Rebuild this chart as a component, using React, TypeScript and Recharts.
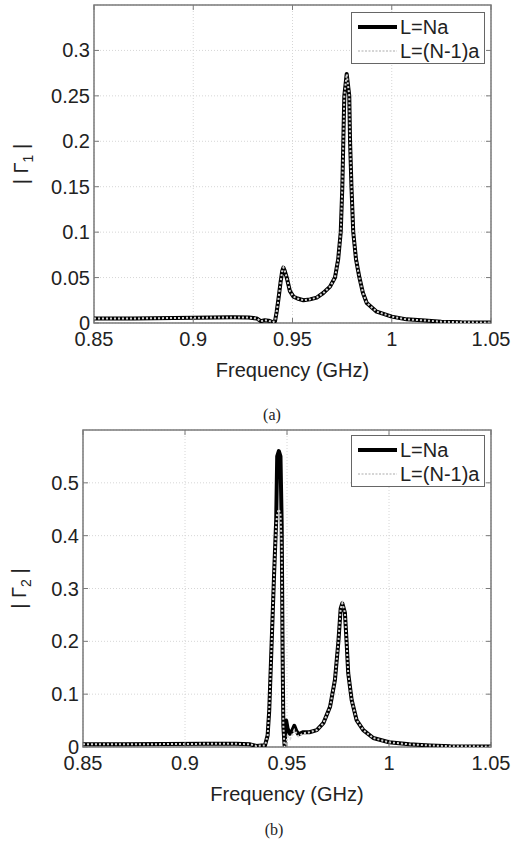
import React from "react";
import {
  LineChart,
  Line,
  XAxis,
  YAxis,
  CartesianGrid,
  ReferenceArea,
  Legend,
  Label,
} from "recharts";

const xTicks = [0.85, 0.9, 0.95, 1, 1.05];
const yTicksA = [0, 0.05, 0.1, 0.15, 0.2, 0.25, 0.3];
const yTicksB = [0, 0.1, 0.2, 0.3, 0.4, 0.5];
const seriesNames = ["L=Na", "L=(N-1)a"];

// panel (a): |Gamma_1|
const freqA = [
  0.85, 0.87, 0.89, 0.91, 0.92, 0.928, 0.932, 0.934, 0.936, 0.938, 0.94, 0.9412,
  0.942, 0.9429, 0.944, 0.9448, 0.9454, 0.946, 0.9471, 0.9487, 0.9505, 0.9525,
  0.9555, 0.9588, 0.9622, 0.9655, 0.9689, 0.9714, 0.973, 0.9743, 0.9751, 0.9756,
  0.9761, 0.9773, 0.9786, 0.979, 0.9797, 0.9806, 0.982, 0.9837, 0.9855, 0.9874,
  0.9924, 1.0, 1.0075, 1.015, 1.025, 1.035, 1.05,
];
const gamma1Na = [
  0.005, 0.005, 0.0055, 0.006, 0.0062, 0.006, 0.005, 0.002, 0.003, 0.0025, 0.001, 0.002,
  0.012, 0.026, 0.045, 0.057, 0.061, 0.058, 0.05, 0.035, 0.029, 0.027,
  0.025, 0.026, 0.028, 0.033, 0.04, 0.05, 0.07, 0.1, 0.15, 0.2,
  0.25, 0.274, 0.25, 0.2, 0.15, 0.1, 0.07, 0.05, 0.033, 0.022,
  0.0125, 0.007, 0.004, 0.003, 0.0015, 0.0008, 0.0005,
];
const gamma1N1 = [
  0.005, 0.005, 0.0055, 0.006, 0.0062, 0.006, 0.005, 0.002, 0.003, 0.0025, 0.001, 0.002,
  0.012, 0.026, 0.045, 0.057, 0.061, 0.058, 0.05, 0.035, 0.029, 0.027,
  0.025, 0.026, 0.028, 0.033, 0.04, 0.05, 0.07, 0.1, 0.15, 0.2,
  0.25, 0.274, 0.25, 0.2, 0.15, 0.1, 0.07, 0.05, 0.033, 0.022,
  0.0125, 0.007, 0.004, 0.003, 0.0015, 0.0008, 0.0005,
];

// panel (b): |Gamma_2|
const freqB = [
  0.85, 0.87, 0.89, 0.91, 0.925, 0.932, 0.935, 0.9375, 0.9392, 0.9405, 0.9413, 0.9425,
  0.9437, 0.9447, 0.9452, 0.946, 0.9468, 0.9474, 0.9478, 0.9482, 0.9488, 0.9496,
  0.9503, 0.9515, 0.9525, 0.9536, 0.9546, 0.9556, 0.958, 0.961, 0.9646, 0.9678,
  0.9711, 0.9735, 0.9752, 0.9763, 0.9771, 0.9784, 0.9792, 0.98, 0.9817, 0.9841,
  0.9874, 0.9923, 1.0, 1.01, 1.02, 1.03, 1.05,
];
const gamma2Na = [
  0.005, 0.005, 0.0055, 0.006, 0.006, 0.005, 0.002, 0.003, 0.003, 0.022, 0.07, 0.2,
  0.33, 0.43, 0.55, 0.56, 0.55, 0.42, 0.2, 0.04, 0.003, 0.05,
  0.035, 0.025, 0.03, 0.04, 0.03, 0.024, 0.028, 0.028, 0.032, 0.045,
  0.076, 0.127, 0.2, 0.262, 0.272, 0.254, 0.2, 0.14, 0.089, 0.051,
  0.032, 0.017, 0.009, 0.005, 0.003, 0.0015, 0.001,
];
const gamma2N1 = [
  0.005, 0.005, 0.0055, 0.006, 0.006, 0.005, 0.002, 0.003, 0.003, 0.022, 0.07, 0.2,
  0.33, 0.42, 0.44, 0.45, 0.44, 0.38, 0.18, 0.04, 0.0, 0.005,
  0.02, 0.015, 0.022, 0.032, 0.026, 0.02, 0.026, 0.028, 0.032, 0.045,
  0.076, 0.127, 0.2, 0.262, 0.272, 0.254, 0.2, 0.14, 0.089, 0.051,
  0.032, 0.017, 0.009, 0.005, 0.003, 0.0015, 0.001,
];

const dataA = freqA.map((f, i) => ({ f, na: gamma1Na[i], n1: gamma1N1[i] }));
const dataB = freqB.map((f, i) => ({ f, na: gamma2Na[i], n1: gamma2N1[i] }));

const FONT = "'Liberation Sans', Arial, Helvetica, sans-serif";
const AXIS = "#7a7a7a";
const TEXT = "#222";

const makeXTick = (plotTop: number) => (p: any) => {
  const { x, y, payload } = p;
  return (
    <g>
      <line x1={x} x2={x} y1={y - 9} y2={y - 14} stroke={AXIS} />
      <line x1={x} x2={x} y1={plotTop} y2={plotTop + 5} stroke={AXIS} />
      <text x={x} y={y} dy="0.71em" textAnchor="middle" fontSize={20} fill={TEXT} fontFamily={FONT}>
        {payload.value}
      </text>
    </g>
  );
};

const makeYTick = (plotRight: number) => (p: any) => {
  const { x, y, payload } = p;
  return (
    <g>
      <line x1={x + 4} x2={x + 9} y1={y} y2={y} stroke={AXIS} />
      <line x1={plotRight} x2={plotRight - 5} y1={y} y2={y} stroke={AXIS} />
      <text x={x} y={y} dy="0.35em" textAnchor="end" fontSize={20} fill={TEXT} fontFamily={FONT}>
        {payload.value}
      </text>
    </g>
  );
};

const legendContent = () => (
  <div
    style={{
      border: "1.5px solid #666",
      background: "#fff",
      boxSizing: "border-box",
      width: 134,
      height: 52,
      padding: "2px 0 0 0",
      fontFamily: FONT,
      fontSize: 20,
      color: TEXT,
      lineHeight: "25px",
      whiteSpace: "nowrap",
    }}
  >
    {seriesNames.map((name, i) => (
      <div key={name} style={{ display: "flex", alignItems: "center", height: 24 }}>
        <svg width={42} height={10} style={{ marginLeft: 6, flexShrink: 0 }}>
          {i === 0 ? (
            <line x1={0} x2={39} y1={5} y2={5} stroke="#000" strokeWidth={4} />
          ) : (
            <line x1={0} x2={39} y1={5} y2={5} stroke="#c8c8c8" strokeWidth={1.5} strokeDasharray="2 1.5" />
          )}
        </svg>
        <span style={{ flexShrink: 0 }}>{name}</span>
      </div>
    ))}
  </div>
);

const yLabel = (sub: string, cx: number, cy: number) => () => (
  <text
    x={cx}
    y={cy}
    transform={`rotate(-90 ${cx} ${cy})`}
    textAnchor="middle"
    fontSize={20}
    fill={TEXT}
    fontFamily={FONT}
  >
    {"| Γ"}
    <tspan fontSize={14} dy={5}>{sub}</tspan>
    <tspan dy={-5}>{" |"}</tspan>
  </text>
);

const xLabel = (cx: number, cy: number) => () => (
  <text x={cx} y={cy} textAnchor="middle" fontSize={20} fill={TEXT} fontFamily={FONT}>
    Frequency (GHz)
  </text>
);

type PanelProps = {
  data: { f: number; na: number; n1: number }[];
  height: number;
  top: number;
  left: number;
  bottom: number;
  yMax: number;
  yTicks: number[];
  sub: string;
  legendTop: number;
  labelX: number;
};

const Panel = ({ data, height, top, left, bottom, yMax, yTicks, sub, legendTop, labelX }: PanelProps) => {
  const right = 491;
  const plotBottom = height - bottom;
  return (
    <LineChart width={511} height={height} data={data} margin={{ top, right: 20, bottom: 0, left: 0 }}>
      <CartesianGrid stroke="#d6d6d6" strokeDasharray="1 2" />
      <XAxis
        dataKey="f"
        type="number"
        domain={[0.85, 1.05]}
        ticks={xTicks}
        allowDataOverflow
        height={bottom}
        axisLine={false}
        tickLine={false}
        tickSize={0}
        tickMargin={9}
        tick={makeXTick(top)}
        interval={0}
      >
        <Label content={xLabel((left + right) / 2, plotBottom + 54)} />
      </XAxis>
      <YAxis
        type="number"
        domain={[0, yMax]}
        ticks={yTicks}
        allowDataOverflow
        width={left}
        axisLine={false}
        tickLine={false}
        tickSize={0}
        tickMargin={4}
        tick={makeYTick(right)}
        interval={0}
      >
        <Label content={yLabel(sub, labelX, (top + plotBottom) / 2)} />
      </YAxis>
      <ReferenceArea
        x1={0.85}
        x2={1.05}
        y1={0}
        y2={yMax}
        fill="none"
        stroke={AXIS}
        strokeWidth={1.5}
        ifOverflow="visible"
      />
      <Line
        type="linear"
        dataKey="na"
        name={seriesNames[0]}
        stroke="#000"
        strokeWidth={4}
        strokeLinejoin="round"
        dot={false}
        activeDot={false}
        isAnimationActive={false}
      />
      <Line
        type="linear"
        dataKey="n1"
        name={seriesNames[1]}
        stroke="#d4d4d4"
        strokeWidth={2}
        strokeDasharray="2 2"
        dot={false}
        activeDot={false}
        isAnimationActive={false}
      />
      <Legend
        layout="vertical"
        align="center"
        verticalAlign="middle"
        content={legendContent}
        wrapperStyle={{ left: 351, top: legendTop, width: 134 }}
      />
    </LineChart>
  );
};

const captionStyle: React.CSSProperties = {
  position: "absolute",
  width: 100,
  textAlign: "center",
  fontFamily: "'Liberation Serif', 'Times New Roman', serif",
  fontSize: 16,
  lineHeight: "16px",
  color: TEXT,
};

export default function App() {
  return (
    <div style={{ position: "absolute", left: 0, top: 0, width: 511, height: 841, background: "#fff" }}>
      <div style={{ position: "absolute", left: 0, top: 0 }}>
        <Panel
          data={dataA}
          height={420}
          top={5}
          left={94}
          bottom={97}
          yMax={0.35}
          yTicks={yTicksA}
          sub="1"
          legendTop={12}
          labelX={28}
        />
      </div>
      <div style={{ ...captionStyle, left: 222, top: 407 }}>(a)</div>
      <div style={{ position: "absolute", left: 0, top: 420 }}>
        <Panel
          data={dataB}
          height={421}
          top={10}
          left={83}
          bottom={94}
          yMax={0.6}
          yTicks={yTicksB}
          sub="2"
          legendTop={15}
          labelX={26}
        />
      </div>
      <div style={{ ...captionStyle, left: 224, top: 822 }}>(b)</div>
    </div>
  );
}
